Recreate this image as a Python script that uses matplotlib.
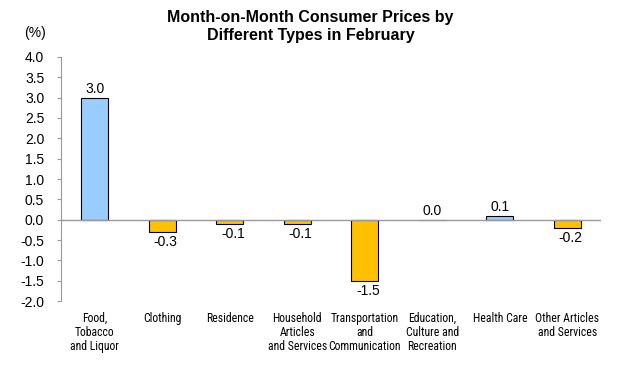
import matplotlib.pyplot as plt
from matplotlib import font_manager

plt.rcParams['font.family'] = ['Liberation Sans', 'DejaVu Sans']

# look for a narrow font for the category labels
names = {f.name for f in font_manager.fontManager.ttflist}
narrow = None
for cand in ['Liberation Sans Narrow', 'Arial Narrow', 'Roboto Condensed',
             'Open Sans Condensed', 'DejaVu Sans Condensed']:
    if cand in names:
        narrow = cand
        break

categories = ['Food,\nTobacco\nand Liquor', 'Clothing', 'Residence',
              'Household\nArticles\nand Services', 'Transportation\nand\nCommunication',
              'Education,\nCulture and\nRecreation', 'Health Care',
              'Other Articles\nand Services']
values = [3.0, -0.3, -0.1, -0.1, -1.5, 0.0, 0.1, -0.2]
yticks = [-2.0, -1.5, -1.0, -0.5, 0.0, 0.5, 1.0, 1.5, 2.0, 2.5, 3.0, 3.5, 4.0]

fig = plt.figure(figsize=(6.21, 3.9), dpi=100)
ax = fig.add_axes([0.098, 0.228, 0.870, 0.626])

x = list(range(len(values)))
colors = ['#99CCFF' if v >= 0 else '#FFC000' for v in values]
ax.bar(x, values, width=0.4, color=colors, edgecolor='black', linewidth=0.8, zorder=2)

for xi, v in zip(x, values):
    if v >= 0:
        ax.text(xi, v + 0.04, f'{v:.1f}', ha='center', va='bottom', fontsize=10)
    else:
        ax.text(xi + 0.05, v - 0.08, f'{v:.1f}', ha='center', va='top', fontsize=10)

ax.axhline(0, color='#999999', linewidth=1, zorder=3)
ax.set_xlim(-0.5, len(values) - 0.5)
ax.set_ylim(-2.0, 4.0)
ax.set_yticks(yticks)
ax.set_yticklabels([f'{t:.1f}' for t in yticks], fontsize=10)
ax.set_xticks(x)
if narrow:
    ax.set_xticklabels(categories, fontsize=8.5, linespacing=1.1, va='top',
                       family=[narrow, 'Liberation Sans'])
else:
    ax.set_xticklabels(categories, fontsize=7.5, linespacing=1.25, va='top')
ax.tick_params(axis='x', length=0, pad=8)
ax.tick_params(axis='y', length=3, color='#999999', pad=9)

for s in ['top', 'right', 'bottom']:
    ax.spines[s].set_visible(False)
ax.spines['left'].set_color('#999999')

fig.text(0.5, 0.975, 'Month-on-Month Consumer Prices by\nDifferent Types in February',
         ha='center', va='top', fontsize=11.5, fontweight='bold', linespacing=1.3)
fig.text(0.056, 0.915, '(%)', ha='center', va='center', fontsize=10)

fig.savefig('out.png', dpi=100)
